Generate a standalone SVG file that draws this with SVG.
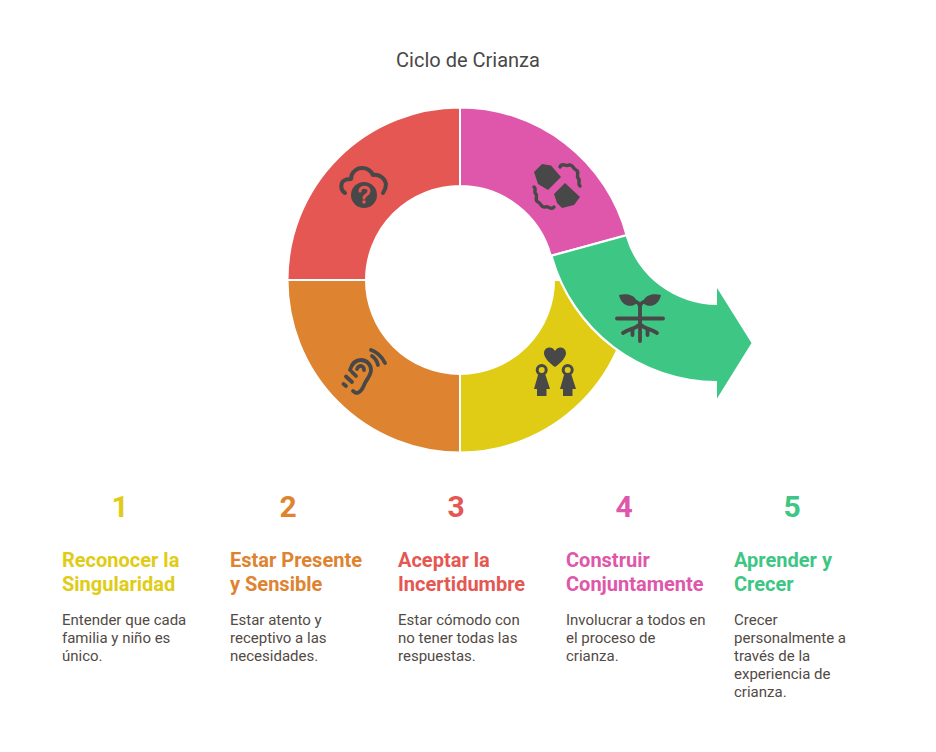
<svg xmlns="http://www.w3.org/2000/svg" width="936" height="752" viewBox="0 0 936 752">
<style>
text{font-family:Roboto,"Liberation Sans",sans-serif}
.seg{stroke:#fff;stroke-width:2}
.ico{fill:#484848}
.lin{fill:none;stroke:#484848;stroke-linecap:round;stroke-linejoin:round}
.t{font-size:20px;fill:#484848;text-anchor:middle}
.n{font-size:30px;font-weight:700;text-anchor:middle}
.h{font-size:20px;font-weight:700}
.b{font-size:15px;fill:#524a44}
</style>
<rect width="936" height="752" fill="#fff"/>
<text class="t" x="468" y="67">Ciclo de Crianza</text>
<g id="connectors"/>
<g id="segment-3">
<path class="seg" fill="#e55753" d="M460 107.500A172.500 172.500 0 0 0 287.500 280H366A94 94 0 0 1 460 186Z"/>
<path class="lin" stroke-width="4" d="M345 193C340 190 340 182 345 180C347 179 349 179 351 179C351 172 357 168 362 168C367 168 371 171 373 175C379 174 385 178 386 184C386 187 385 190 383 193"/>
<circle class="ico" cx="364" cy="195" r="13"/>
<path d="M360 191C360 186 369 186 369 191C369 195 364 195 364 198" fill="none" stroke="#e55753" stroke-width="3" stroke-linecap="round"/>
<circle cx="364" cy="202" r="1.800" fill="#e55753"/>
</g>
<g id="segment-2">
<path class="seg" fill="#de832f" d="M287.500 280A172.500 172.500 0 0 0 460 452.500V374A94 94 0 0 1 366 280Z"/>
<g class="lin" stroke-width="3.800">
<path d="M350 370C352 363 356 360 361 360C367 360 371 365 371 370C371 375 367 379 365 383C363 387 362 392 357 393C355 393 354 392 353 391"/>
<path d="M357 369C358 366 361 365 363 367C364 368 364 369 364 370"/>
<path d="M372 356C375 358 377 361 378 365"/>
<path d="M371 350C377 352 382 357 385 363"/>
<path d="M343.500 384L346 386M346 376.500L352 382M352 372L356 376"/>
</g>
</g>
<g id="segment-1">
<path class="seg" fill="#e0cc14" d="M460 452.500A172.500 172.500 0 0 0 632 280H554A94 94 0 0 1 460 374Z"/>
<path class="ico" d="M555 367C548 362 544 357 544 353C544 347 552 345 555 351C558 345 566 347 566 353C566 357 562 362 555 367Z"/>
<g id="people">
<circle cx="541.700" cy="370" r="4.500" fill="none" stroke="#484848" stroke-width="3"/>
<circle cx="567.700" cy="370" r="4.500" fill="none" stroke="#484848" stroke-width="3"/>
<path class="ico" d="M538 375H545.500L550 389H546.500V396H537V389H534Z"/>
<path class="ico" d="M564 375H571.500L576 389H572.500V396H563V389H560Z"/>
</g>
</g>
<g id="segment-4">
<path class="seg" fill="#de57aa" d="M460 107.500A172.500 172.500 0 0 1 626.600 235.400L550.800 255.700A94 94 0 0 0 460 186Z"/>
<path class="ico" d="M534 172L542 164L551 165.500L561 177L548 190L538 184Z"/>
<path class="ico" d="M554 194L565 183L580 197L574 205L562 208L557 203Z"/>
<g class="lin" stroke-width="3.400"><path d="M560 167C562 162 566 167 569 165C573 164 573 169 576 170C580 172 576 175 578 178C581 180 577 183 580 186"/><path d="M554 207C551 211 548 205 545 207C541 208 541 203 538 202C534 200 538 197 536 194C533 192 537 189 534 187"/></g>
</g>
<g id="segment-5">
<path d="M717 381A171 171 0 0 1 552.800 256.500L625.800 236.500" fill="none" stroke="#fff" stroke-width="4.500"/>
<path fill="#3dc684" d="M552.800 256.500L625.800 236.500A95.500 95.500 0 0 0 717 305V288L751.500 343L717 398.500V381A171 171 0 0 1 552.800 256.500Z"/>
<g class="lin" stroke-width="3.800">
<path d="M617 318.500H663"/>
<path d="M640 341V307C640 303 636 301 632 301M640 307C640 303 644 301 648 301"/>
<path d="M640 324C635 330 629 328 623 333M640 324C645 330 651 328 657 333"/>
<path d="M632.500 329V335M647.500 329V335"/>
</g>
<path class="ico" d="M619 295C627 293 636 295 637 303C630 309 621 305 619 295Z"/>
<path class="ico" d="M661 295C653 293 644 295 643 303C650 309 659 305 661 295Z"/>
</g>
<g id="step-1"><text class="n" x="120" y="516.500" fill="#e0cc14">1</text><text class="h" fill="#e0cc14"><tspan x="62" y="567">Reconocer la</tspan><tspan x="62" y="591">Singularidad</tspan></text><text class="b"><tspan x="62" y="625">Entender que cada</tspan><tspan x="62" y="643">familia y niño es</tspan><tspan x="62" y="661">único.</tspan></text></g>
<g id="step-2"><text class="n" x="288" y="516.500" fill="#de832f">2</text><text class="h" fill="#de832f"><tspan x="230" y="567">Estar Presente</tspan><tspan x="230" y="591">y Sensible</tspan></text><text class="b"><tspan x="230" y="625">Estar atento y</tspan><tspan x="230" y="643">receptivo a las</tspan><tspan x="230" y="661">necesidades.</tspan></text></g>
<g id="step-3"><text class="n" x="456" y="516.500" fill="#e55753">3</text><text class="h" fill="#e55753"><tspan x="398" y="567">Aceptar la</tspan><tspan x="398" y="591">Incertidumbre</tspan></text><text class="b"><tspan x="398" y="625">Estar cómodo con</tspan><tspan x="398" y="643">no tener todas las</tspan><tspan x="398" y="661">respuestas.</tspan></text></g>
<g id="step-4"><text class="n" x="624" y="516.500" fill="#de57aa">4</text><text class="h" fill="#de57aa"><tspan x="566" y="567">Construir</tspan><tspan x="566" y="591">Conjuntamente</tspan></text><text class="b"><tspan x="566" y="625">Involucrar a todos en</tspan><tspan x="566" y="643">el proceso de</tspan><tspan x="566" y="661">crianza.</tspan></text></g>
<g id="step-5"><text class="n" x="792" y="516.500" fill="#3dc684">5</text><text class="h" fill="#3dc684"><tspan x="734" y="567">Aprender y</tspan><tspan x="734" y="591">Crecer</tspan></text><text class="b"><tspan x="734" y="625">Crecer</tspan><tspan x="734" y="643">personalmente a</tspan><tspan x="734" y="661">través de la</tspan><tspan x="734" y="679">experiencia de</tspan><tspan x="734" y="697">crianza.</tspan></text></g>
</svg>
